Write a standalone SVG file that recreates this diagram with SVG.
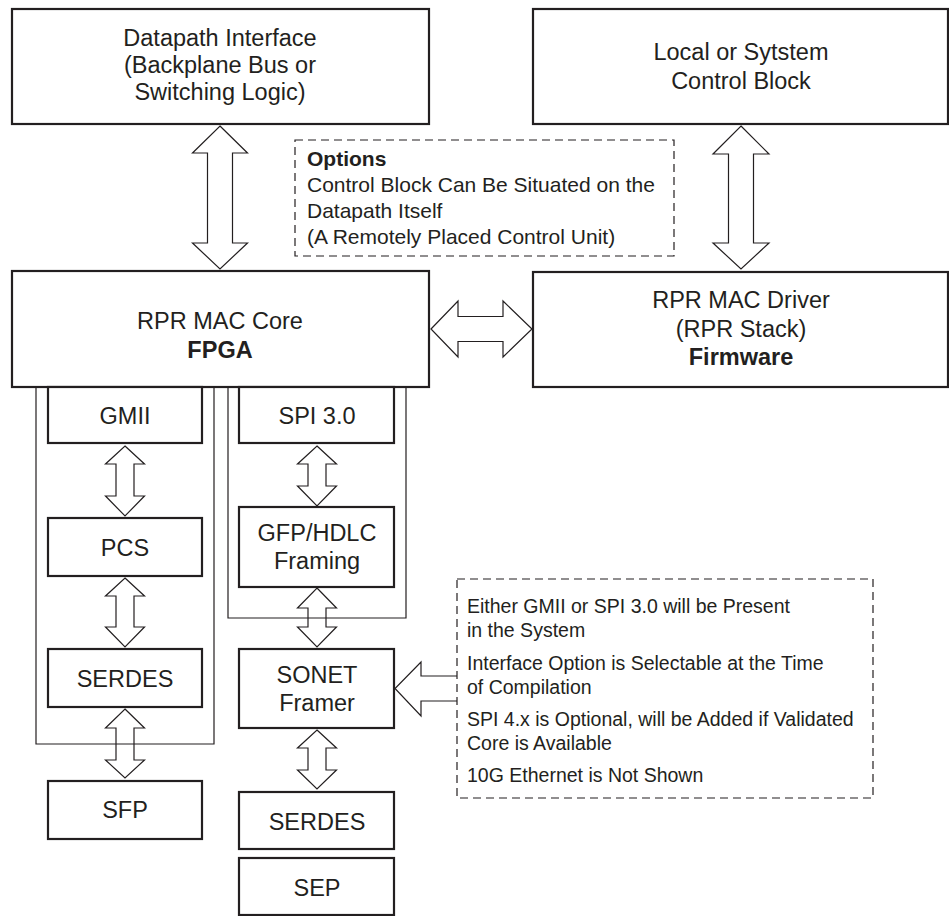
<svg xmlns="http://www.w3.org/2000/svg" width="949" height="916" viewBox="0 0 949 916">
<style>
text{font-family:"Liberation Sans",Arial,sans-serif;fill:#231f20;font-size:23.5px}
.c{text-anchor:middle}
.b{font-weight:bold}
.box{fill:#fff;stroke:#231f20;stroke-width:2.2}
.cont{fill:none;stroke:#231f20;stroke-width:1.2}
.dash{fill:#fff;stroke:#231f20;stroke-width:1.2;stroke-dasharray:8 5}
.arr{fill:#fff;stroke:#231f20;stroke-width:1.2;stroke-linejoin:miter}
.o{font-size:21px}
.n{font-size:19.5px}
</style>
<rect width="949" height="916" fill="#fff"/>
<g id="connectors">
<polygon class="arr" points="220,126 247.5,153 232.5,153 232.5,243 247.5,243 220,269 192.5,243 207.5,243 207.5,153 192.5,153"/>
<polygon class="arr" points="741,126 769,154 753.5,154 753.5,243 769,243 741,269 713,243 728.5,243 728.5,154 713,154"/>
<polygon class="arr" points="431,329 458,301 458,316.5 503,316.5 503,301 532,329 503,357 503,341.5 458,341.5 458,357"/>
<polygon class="arr" points="125,446 144.5,464 134,464 134,496 144.5,496 125,516 105.5,496 116,496 116,464 105.5,464"/>
<polygon class="arr" points="125,578 144.5,596 134,596 134,627 144.5,627 125,647 105.5,627 116,627 116,596 105.5,596"/>
<polygon class="arr" points="125,709 144.5,728 134,728 134,760 144.5,760 125,778 105.5,760 116,760 116,728 105.5,728"/>
<polygon class="arr" points="317,446 336.5,464 326,464 326,486 336.5,486 317,506 297.5,486 308,486 308,464 297.5,464"/>
<polygon class="arr" points="317,588 336.5,608 326,608 326,627 336.5,627 317,647 297.5,627 308,627 308,608 297.5,608"/>
<polygon class="arr" points="317,730 336.5,748 326,748 326,770 336.5,770 317,789 297.5,770 308,770 308,748 297.5,748"/>
<path class="arr" d="M457,676 H421 V662 L395,688.5 L421,716 V701 H457"/>
</g>
<g id="containers">
<polyline class="cont" points="36,387 36,744 214,744 214,387"/>
<polyline class="cont" points="228,387 228,618 406,618 406,387"/>
</g>
<g id="datapath">
<rect class="box" x="12" y="9" width="417" height="115"/>
<text class="c" x="220" y="46">Datapath Interface</text>
<text class="c" x="220" y="73">(Backplane Bus or</text>
<text class="c" x="220" y="100">Switching Logic)</text>
</g>
<g id="control">
<rect class="box" x="533" y="9" width="415" height="115"/>
<text class="c" x="741" y="60">Local or Sytstem</text>
<text class="c" x="741" y="89">Control Block</text>
</g>
<g id="options">
<rect class="dash" x="295" y="140" width="379" height="116"/>
<text class="b o" x="307" y="166">Options</text>
<text class="o" x="307" y="192">Control Block Can Be Situated on the</text>
<text class="o" x="307" y="218">Datapath Itself</text>
<text class="o" x="307" y="244">(A Remotely Placed Control Unit)</text>
</g>
<g id="core">
<rect class="box" x="12" y="271" width="417" height="116"/>
<text class="c" x="220" y="329">RPR MAC Core</text>
<text class="c b" x="220" y="358">FPGA</text>
</g>
<g id="driver">
<rect class="box" x="533" y="272" width="415" height="115"/>
<text class="c" x="741" y="308">RPR MAC Driver</text>
<text class="c" x="741" y="337">(RPR Stack)</text>
<text class="c b" x="741" y="365">Firmware</text>
</g>
<g id="gmii">
<rect class="box" x="48" y="387" width="154" height="56"/>
<text class="c" x="125" y="424">GMII</text>
</g>
<g id="pcs">
<rect class="box" x="48" y="518" width="154" height="58"/>
<text class="c" x="125" y="556">PCS</text>
</g>
<g id="serdes1">
<rect class="box" x="48" y="649" width="154" height="58"/>
<text class="c" x="125" y="687">SERDES</text>
</g>
<g id="sfp">
<rect class="box" x="48" y="781" width="154" height="58"/>
<text class="c" x="125" y="818">SFP</text>
</g>
<g id="spi">
<rect class="box" x="239" y="387" width="155" height="56"/>
<text class="c" x="317" y="424">SPI 3.0</text>
</g>
<g id="gfp">
<rect class="box" x="239" y="507" width="155" height="80"/>
<text class="c" x="317" y="541">GFP/HDLC</text>
<text class="c" x="317" y="569">Framing</text>
</g>
<g id="sonet">
<rect class="box" x="239" y="649" width="155" height="79"/>
<text class="c" x="317" y="683">SONET</text>
<text class="c" x="317" y="711">Framer</text>
</g>
<g id="serdes2">
<rect class="box" x="239" y="792" width="155" height="57"/>
<text class="c" x="317" y="830">SERDES</text>
</g>
<g id="sep">
<rect class="box" x="239" y="858" width="155" height="57"/>
<text class="c" x="317" y="896">SEP</text>
</g>
<g id="notes">
<rect class="dash" x="457" y="579" width="416" height="219"/>
<text class="n" x="467" y="613">Either GMII or SPI 3.0 will be Present</text>
<text class="n" x="467" y="637">in the System</text>
<text class="n" x="467" y="670">Interface Option is Selectable at the Time</text>
<text class="n" x="467" y="694">of Compilation</text>
<text class="n" x="467" y="726">SPI 4.x is Optional, will be Added if Validated</text>
<text class="n" x="467" y="750">Core is Available</text>
<text class="n" x="467" y="782">10G Ethernet is Not Shown</text>
</g>
</svg>
